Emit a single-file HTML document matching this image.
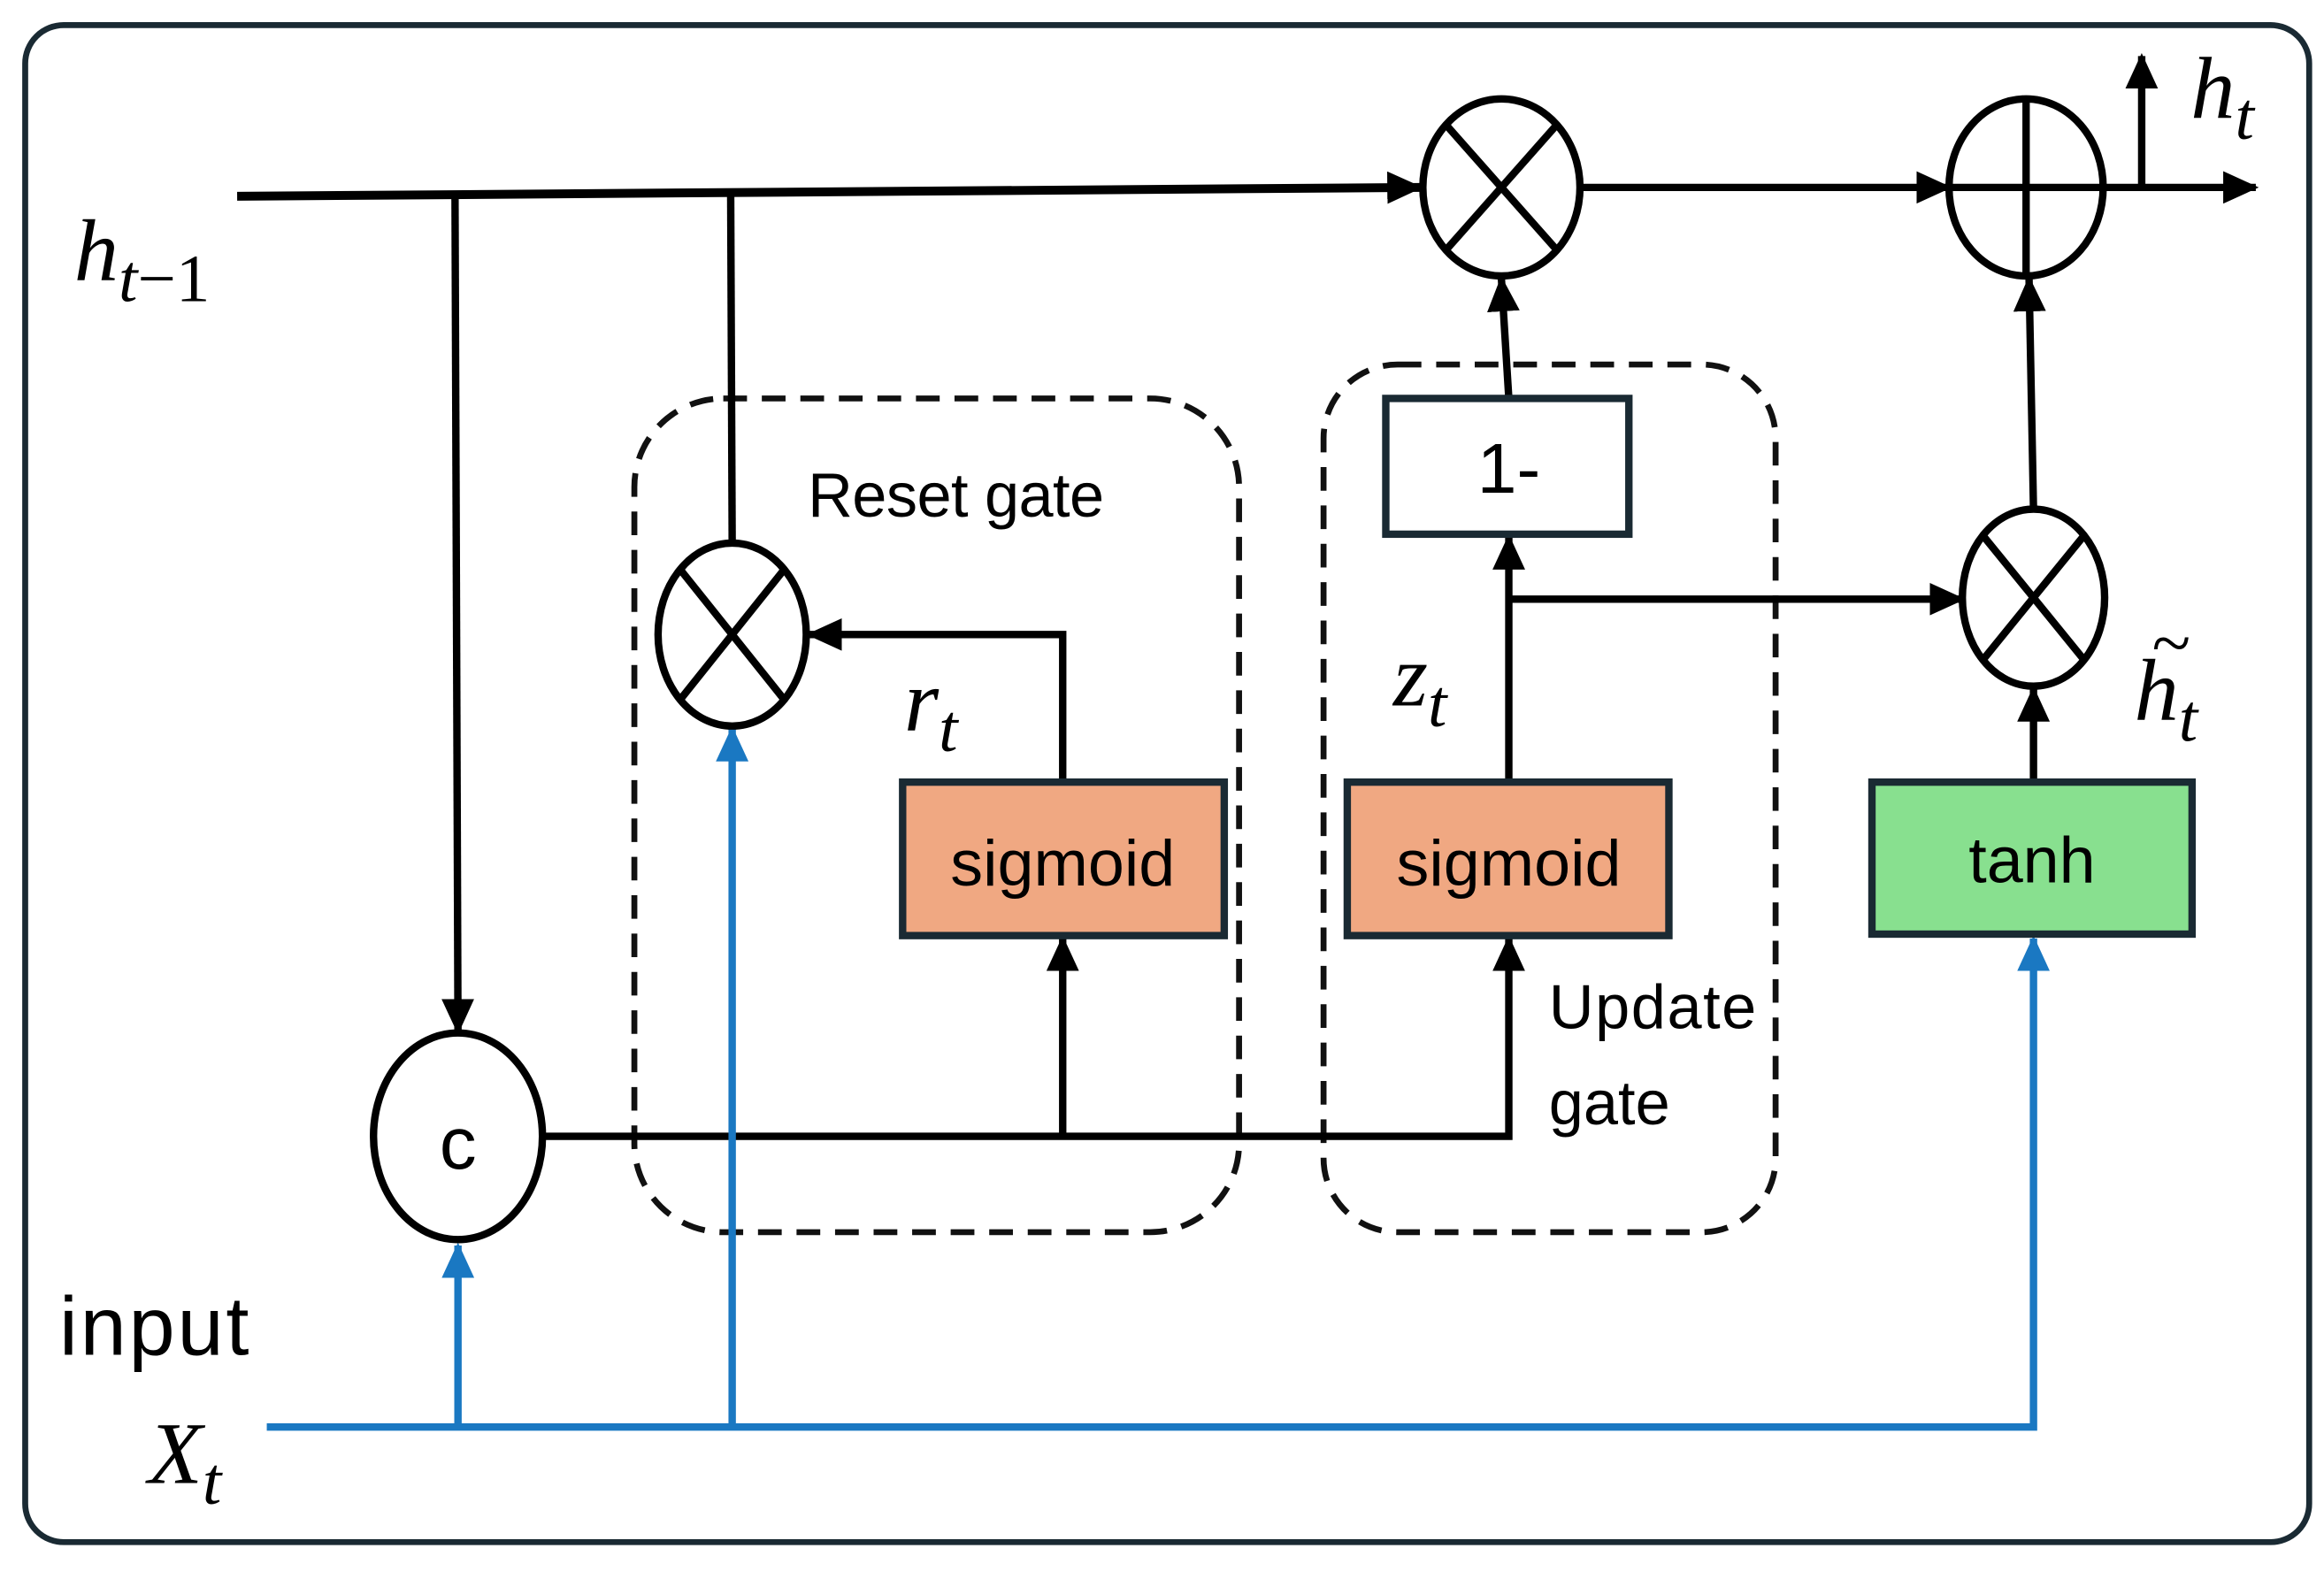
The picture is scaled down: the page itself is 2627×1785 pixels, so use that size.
<!DOCTYPE html>
<html><head><meta charset="utf-8"><style>
html,body{margin:0;padding:0;background:#fff;}
svg{display:block;}
.s{font-family:"Liberation Sans",sans-serif;}
.m{font-family:"Liberation Serif",serif;font-style:italic;}
</style></head><body>
<svg width="2627" height="1785" viewBox="0 0 1568 1070" preserveAspectRatio="none" xmlns="http://www.w3.org/2000/svg">
<defs>
<marker id="a" markerWidth="24" markerHeight="22" refX="22" refY="11" orient="auto" markerUnits="userSpaceOnUse" viewBox="0 0 24 22"><path d="M0,0 L24,11 L0,22 z" fill="#000"/></marker>
<marker id="ab" markerWidth="24" markerHeight="22" refX="22" refY="11" orient="auto" markerUnits="userSpaceOnUse" viewBox="0 0 24 22"><path d="M0,0 L24,11 L0,22 z" fill="#1a78c2"/></marker>
</defs>
<style>
.k{stroke:#000;stroke-width:5;fill:none;}
.b{stroke:#1a78c2;stroke-width:5;fill:none;}
</style>
<rect x="17" y="17" width="1541" height="1028" rx="26" fill="#fff" stroke="#1a2a33" stroke-width="4"/>
<rect x="428" y="270" width="408" height="565" rx="60" fill="none" stroke="#111" stroke-width="4" stroke-dasharray="16,10"/>
<rect x="893" y="247" width="305" height="588" rx="50" fill="none" stroke="#111" stroke-width="4" stroke-dasharray="16,10"/>
<path class="k" d="M160,133 L958,127" marker-end="url(#a)" style="stroke-width:6"/>
<path class="k" d="M1068,127 L1315,127" marker-end="url(#a)"/>
<path class="k" d="M1420,127 L1522,127" marker-end="url(#a)"/>
<path class="k" d="M1445,127 L1445,38" marker-end="url(#a)"/>
<path class="k" d="M307,133 L309,699" marker-end="url(#a)"/>
<path class="k" d="M493,133 L494,368"/>
<path class="k" d="M366,770 L1018,770 L1018,636" marker-end="url(#a)"/>
<path class="k" d="M717,770 L717,636" marker-end="url(#a)"/>
<path class="k" d="M717,530 L717,430 L546,430" marker-end="url(#a)"/>
<path class="k" d="M1018,530 L1018,364" marker-end="url(#a)"/>
<path class="k" d="M1018,406 L1324,406" marker-end="url(#a)"/>
<path class="k" d="M1018,270 L1013,189" marker-end="url(#a)"/>
<path class="k" d="M1372,530 L1372,467" marker-end="url(#a)"/>
<path class="k" d="M1372,345 L1369,189" marker-end="url(#a)"/>
<path class="b" d="M180,967 L1372,967 L1372,636" marker-end="url(#ab)"/>
<path class="b" d="M309,967 L309,844" marker-end="url(#ab)"/>
<path class="b" d="M494,967 L494,494" marker-end="url(#ab)"/>
<g stroke="#000" stroke-width="5" fill="#fff">
<ellipse cx="1013" cy="127" rx="53" ry="60"/>
<ellipse cx="1367" cy="127" rx="52" ry="60"/>
<ellipse cx="494" cy="430" rx="50" ry="62"/>
<ellipse cx="1372" cy="405" rx="48" ry="60"/>
<ellipse cx="309" cy="770" rx="57" ry="70"/>
</g>
<g stroke="#000" stroke-width="5">
<line x1="976" y1="85" x2="1050" y2="169"/><line x1="1050" y1="85" x2="976" y2="169"/>
<line x1="1367" y1="67" x2="1367" y2="187"/><line x1="1315" y1="127" x2="1419" y2="127"/>
<line x1="459" y1="386" x2="529" y2="474"/><line x1="529" y1="386" x2="459" y2="474"/>
<line x1="1338" y1="363" x2="1406" y2="447"/><line x1="1406" y1="363" x2="1338" y2="447"/>
</g>
<rect x="935" y="270" width="164" height="92" fill="#fff" stroke="#1a2a33" stroke-width="5"/>
<rect x="609" y="530" width="217" height="104" fill="#f0a882" stroke="#1a2a33" stroke-width="5"/>
<rect x="909" y="530" width="217" height="104" fill="#f0a882" stroke="#1a2a33" stroke-width="5"/>
<rect x="1263" y="530" width="216" height="103" fill="#88e08f" stroke="#1a2a33" stroke-width="5"/>
<g class="s" fill="#000" text-anchor="middle">
<text x="1018" y="334" font-size="48">1-</text>
<text x="717" y="600" font-size="44">sigmoid</text>
<text x="1018" y="600" font-size="44">sigmoid</text>
<text x="1371" y="598" font-size="44">tanh</text>
<text x="309" y="792" font-size="50">c</text>
</g>
<g class="s" fill="#000">
<text x="545" y="350" font-size="42" textLength="200">Reset gate</text>
<text x="1045" y="697" font-size="42" textLength="140">Update</text>
<text x="1045" y="762" font-size="42">gate</text>
<text x="40" y="918" font-size="56" textLength="128">input</text>
</g>
<g class="m" fill="#000">
<text x="50" y="190" font-size="60">h<tspan font-size="46" dy="14">t</tspan><tspan font-style="normal" font-size="46">−1</tspan></text>
<text x="100" y="1005" font-size="60">X<tspan font-size="46" dy="14">t</tspan></text>
<text x="1478" y="80" font-size="60">h<tspan font-size="46" dy="14">t</tspan></text>
<text x="610" y="495" font-size="60">r<tspan font-size="46" dy="14">t</tspan></text>
<text x="940" y="478" font-size="60">z<tspan font-size="46" dy="14">t</tspan></text>
<text x="1440" y="488" font-size="60">h<tspan font-size="46" dy="14">t</tspan></text>
<text x="1452" y="452" font-size="48" font-style="normal">~</text>
</g>
</svg>
</body></html>
